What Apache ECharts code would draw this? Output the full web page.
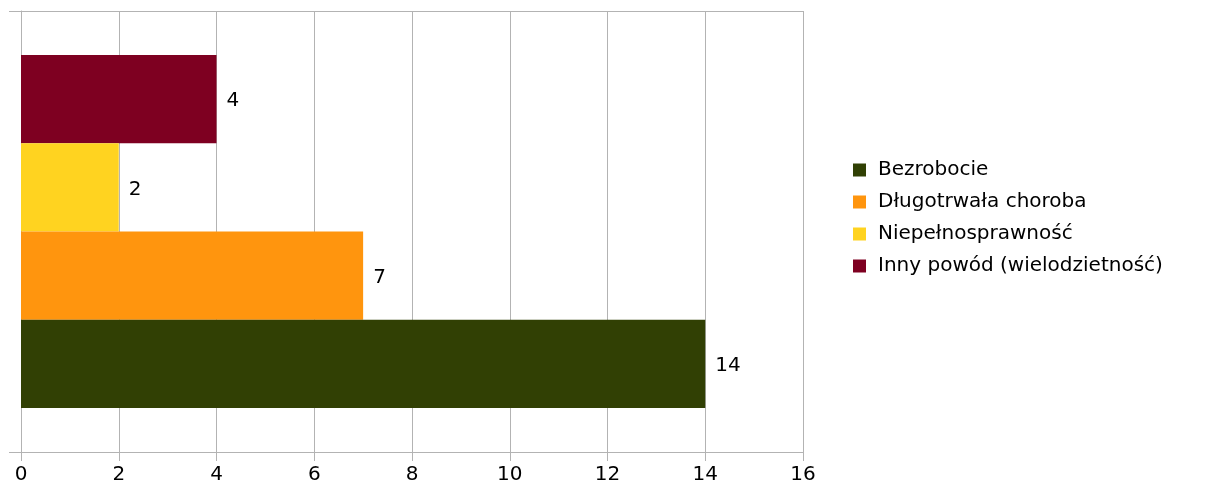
<!DOCTYPE html>
<html>
<head>
<meta charset="utf-8">
<script src="https://cdn.jsdelivr.net/npm/echarts@6/dist/echarts.min.js"></script>
<style>html,body{margin:0;padding:0;background:#fff}#c{width:1213px;height:491px}</style>
</head>
<body>
<div id="c"></div>
<script>
const categories = [''];
const seriesNames = ['Bezrobocie', 'Długotrwała choroba', 'Niepełnosprawność', 'Inny powód (wielodzietność)'];
const seriesValues = [[14], [7], [2], [4]];
const seriesColors = ['#314004', '#FF950E', '#FFD320', '#7E0021'];
const xTicks = { min: 0, max: 16, interval: 2 };

const chart = echarts.init(document.getElementById('c'));
const font = '"DejaVu Sans", "Liberation Sans", Arial, sans-serif';
// ECharts places the first series of a horizontal group at the top; the reference
// has the first series at the bottom, so series are added in reverse order.
const order = seriesNames.map((_, i) => i).reverse();
chart.setOption({
  animation: false,
  textStyle: { fontFamily: font },
  grid: { left: 21, right: 410, top: 11, bottom: 39, containLabel: false },
  legend: {
    orient: 'vertical', left: 848, top: 155,
    itemWidth: 13, itemHeight: 13, itemGap: 12,
    icon: 'rect',
    textStyle: { fontSize: 20, lineHeight: 20, color: '#000', fontFamily: font, padding: [0, 0, 0, 7] },
    data: seriesNames
  },
  xAxis: {
    type: 'value', min: xTicks.min, max: xTicks.max, interval: xTicks.interval,
    axisLine: { show: true, lineStyle: { color: '#b3b3b3' } },
    axisTick: { show: true, length: 9, lineStyle: { color: '#b3b3b3' } },
    axisLabel: { fontSize: 20, color: '#000', margin: 13, fontFamily: font },
    splitLine: { show: true, lineStyle: { color: '#b3b3b3' } }
  },
  yAxis: {
    type: 'category', data: categories,
    axisLine: { show: true, lineStyle: { color: '#b3b3b3' } },
    axisTick: { show: true, length: 12, lineStyle: { color: '#b3b3b3' } },
    axisLabel: { show: false },
    splitLine: { show: true, lineStyle: { color: '#b3b3b3' } }
  },
  series: order.map(i => ({
    name: seriesNames[i], type: 'bar', data: seriesValues[i],
    barGap: '0%', barCategoryGap: '20%',
    itemStyle: { color: seriesColors[i] },
    label: { show: true, position: 'right', distance: 10, fontSize: 20, color: '#000', fontFamily: font, offset: [0, 2] }
  }))
});
</script>
</body>
</html>
